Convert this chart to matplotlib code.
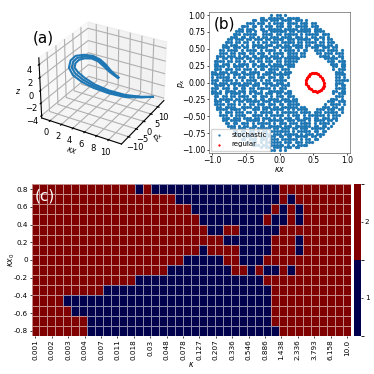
import numpy as np
import matplotlib
matplotlib.use("Agg")
import matplotlib.pyplot as plt
from matplotlib.colors import ListedColormap, BoundaryNorm

# (a) attractor strands
strand_x = [11.7, 10.1, 8.09, 5.97, 4.3, 2.96, 1.96, 1.18, 0.95, 1.29, 1.96, 2.85, 3.63, 4.41, 5.3, 6.42]
mid_y = [7.9, 6.21, 3.49, 0.65, -2.47, -4.32, -5.5, -5.01, -3.41, -2.0, -0.02, 1.73, 3.19, 3.95, 4.29, 5.08]
mid_z = [-2.4, -2.49, -2.27, -1.55, -0.4, 0.63, 1.59, 2.23, 2.76, 3.17, 3.14, 2.9, 2.29, 1.52, 0.72, -0.12]
outer_y = [7.9, 6.2, 3.46, 0.4, -2.94, -5.2, -6.99, -6.66, -4.81, -2.96, -0.17, 2.19, 3.84, 4.6, 4.72, 5.29]
outer_z = [-2.4, -2.54, -2.43, -1.71, -0.56, 0.51, 1.67, 2.57, 3.26, 3.67, 3.45, 3.01, 2.30, 1.53, 0.72, -0.12]
inner_y = [7.9, 6.22, 3.53, 0.9, -2.01, -3.43, -4.01, -3.36, -2.01, -1.03, 0.13, 1.28, 2.54, 3.3, 3.86, 4.86]
inner_z = [-2.4, -2.44, -2.11, -1.39, -0.24, 0.75, 1.51, 1.89, 2.26, 2.67, 2.83, 2.79, 2.28, 1.51, 0.72, -0.12]

# (b) section points, one cell per point, y from 1.0 down to -1.0, x from -1.0 to 1.0
stochastic_rows = [
    "..... ..... ..... ..... ..#.# #.#.. ..... ..... ..... ..... .",
    "..... ..... ..... ...## .#### ##.## ###.. ..... ..... ..... .",
    "..... ..... ..... ##.## #.### .#### .###. #.... ..... ..... .",
    "..... ..... ...## #.### .#.## ##.## ##.## #.##. ..... ..... .",
    "..... ..... .###. ##.#. ###.# ##.## .#### #.### ..... ..... .",
    "..... ..... ##.## #..## .#### #.### ##.## ##.## #.... ..... .",
    "..... ....# ##.## .#..# #.### ###.# #.### ##.## ##... ..... .",
    "..... ...## #.### ##..# ###.# #.### ##.#. ##### .###. ..... .",
    "..... ..### .##.# #.#.# #.### .#### .###. #.##. ##.#. ..... .",
    "..... .##.# ##.## .###. ##.## ##.## #.### ##.## .#.## ..... .",
    "..... ###.# #.##. #.#.# #.### .#### #.##. ####. ##.## #.... .",
    "....# #.### .#.#. ####. ###.# #.##. ####. ##.## ##.## .#... .",
    "....# ##.## #.##. #.### #..## .#### .###. #.### .###. ##... .",
    "...## .#### .#.## ##.#. ####. #.### #.#.# #..## ##.## ##.#. .",
    "...## #.##. ###.# #.### .#.## ##.## ##.## ....# #.### .###. .",
    "..### .###. #.##. ##.## #.### .#.## ##.## ..... ####. #.##. .",
    "..#.# #.#.# ##.## .###. ##.## #.### ###.. ..... ..### ##.#. .",
    ".#### .##.# #.#.# #.##. ###.# #.### ##... ..... ...## #.### .",
    ".##.# ##.#. ####. ##.## .#.## #.### #.... ..... ....# ##.## .",
    ".#### .#.## ##.#. #.### #.### ##.## #.... ..... ..... ##.## .",
    ".###. ###.# #.### .#.## .#### .###. ..... ..... ..... #.### .",
    "##.## #.### .##.# ###.. ####. #.### ..... ..... ..... .###. .",
    "##### .#.## #.### #.#.# ##.## ####. ..... ..... ..... .#### .",
    "#.### ##.#. ###.# #.### .###. ##.#. ..... ..... ..... .##.# .",
    "###.# ###.# .#.## ##.#. ##.## ###.. ..... ..... ..... .#### #",
    "##.## #.### #.### .##.# ###.# ##.#. ..... ..... ..... .###. .",
    ".#### .#.#. ####. ###.. #.### .###. ..... ..... ..... .#.## .",
    "###.# ##.## .##.# #.### ##.#. ###.. ..... ..... ..... .#### .",
    "##.#. ####. ###.# ##.#. .#### ##.## ..... ..... ..... ##.## .",
    "####. #.### #.#.# .###. ###.# #.### ..... ..... ..... #.### .",
    ".##.# #.##. ####. ##.## #.#.# ##.## #.... ..... ..... .###. .",
    ".#.## ###.# #.### .#.## .#### .###. ##... ..... ....# ##.#. .",
    ".###. ##.#. ##.## ###.# ##.## #.### ##... ..... ...## #.### .",
    ".#### .###. #.#.# #.### .###. ##.## ###.. ..... ..#.# ###.# .",
    "..##. ####. .#### .##.# ##.## .#### ##.## ..... .###. ##.#. .",
    "..### #.### #.#.. ###.# #.### ##.#. #.### #...# ##.## #.##. .",
    "...#. ###.# ##.## .#.## ###.# .#### ##.## ##.## #.### ##.#. .",
    "...## #.#.# ###.. ####. #.### ##.#. ###.# .#### ##.#. ###.. .",
    "....# ##.## #.### .##.# ##.#. #.### .##.# ##.## .###. ##... .",
    "....# #.### #..## ###.# .#### ##.## #.### .#.## ##.## .#... .",
    "..... ##.## .###. #.### ##.#. ###.# ##.## ##.#. ####. #.... .",
    "..... .###. #.##. ##.## .#### #.### .#### ##.## .##.# ..... .",
    "..... ..##. ###.# #.### ##.## .###. ##.## #.### ##.#. ..... .",
    "..... ...## .##.# #.#.# #.### ####. #.### ##.## .##.. ..... .",
    "..... ....# ##.## ##.#. ##.## #.### ##.#. ###.# ##... ..... .",
    "..... ..... #.### .#.## ####. ##.## .#### #.##. #.... ..... .",
    "..... ..... .##.# ##.## #.### .#### ##.#. ##.## ..... ..... .",
    "..... ..... ...#. ##.#. ##### #.### .###. ###.. ..... ..... .",
    "..... ..... ..... ###.# #.### ##.#. #.### #.... ..... ..... .",
    "..... ..... ..... ...#. ##.## #.### .##.. ..... ..... ..... .",
    "..... ..... ..... ..... ..##. #.#.. ..... ..... ..... ..... .",
]
regular_x = [0.40, 0.41, 0.43, 0.45, 0.48, 0.51, 0.54, 0.57, 0.60, 0.63, 0.65, 0.66, 0.655,
             0.64, 0.62, 0.59, 0.56, 0.53, 0.50, 0.47, 0.44, 0.42, 0.40, 0.39]
regular_y = [0.03, 0.07, 0.10, 0.125, 0.135, 0.14, 0.135, 0.12, 0.10, 0.07, 0.03, -0.01, -0.05,
             -0.08, -0.11, -0.125, -0.135, -0.13, -0.12, -0.10, -0.08, -0.05, -0.02, 0.0]

# (c) number of attractors for each kappa / kappa x0
kappa_labels = ["0.001", "0.002", "0.003", "0.004", "0.007", "0.011", "0.018", "0.03", "0.048", "0.078",
                "0.127", "0.207", "0.336", "0.546", "0.886", "1.438", "2.336", "3.793", "6.158", "10.0"]
kx0_labels = ["0.8", "0.6", "0.4", "0.2", "0", "-0.2", "-0.4", "-0.6", "-0.8"]
# cell runs per row, left to right, starting with value 2 and then alternating 1, 2, ...
attractor_runs = [
    [13, 1, 1, 16, 9],
    [18, 13, 1, 1, 7],
    [20, 10, 1, 1, 1, 1, 6],
    [21, 8, 1, 2, 1, 1, 6],
    [22, 2, 2, 5, 9],
    [24, 6, 3, 1, 6],
    [21, 1, 4, 4, 3, 1, 6],
    [19, 5, 2, 3, 11],
    [17, 8, 2, 1, 1, 2, 1, 1, 7],
    [13, 16, 11],
    [9, 21, 10],
    [4, 26, 10],
    [5, 25, 10],
    [7, 23, 10],
    [7, 24, 9],
]

blue = "#1f77b4"
fig = plt.figure(figsize=(3.74, 3.74), dpi=100)


def rect(left, top, right, bottom):
    return [left / 374, 1 - bottom / 374, (right - left) / 374, (bottom - top) / 374]


# panel a
ax1 = fig.add_axes(rect(31, 11, 173, 153), projection="3d")
for ys, zs in [(mid_y, mid_z), (outer_y, outer_z), (inner_y, inner_z)]:
    ax1.plot(strand_x, ys, zs, color=blue, lw=1.5, solid_joinstyle="round")
ax1.set_xlim(-1.5, 12.1)
ax1.set_ylim(-14.5, 14.5)
ax1.set_zlim(-4.4, 5)
ax1.set_xticks([0, 2, 4, 6, 8, 10])
ax1.set_yticks([-10, -5, 0, 5, 10])
ax1.set_zticks([-4, -2, 0, 2, 4])
ax1.zaxis.set_ticks_position("lower")
ax1.zaxis.set_label_position("lower")
ax1.tick_params(labelsize=6, pad=-4, length=2)
ax1.set_xlabel(r"$\kappa x$", fontsize=5.5, labelpad=-11)
ax1.set_ylabel(r"$p_x$", fontsize=5.5, labelpad=-11)
ax1.set_zlabel(r"$z$", fontsize=5.5, labelpad=-12)
fig.text(33 / 374, 1 - 38 / 374, "(a)", fontsize=11, va="center")

# panel b
ax2 = fig.add_axes(rect(209, 12, 350, 153))
sx, sy = [], []
for i, row in enumerate(stochastic_rows):
    for j, c in enumerate(row.replace(" ", "")):
        if c == "#":
            sx.append(-1 + 0.04 * j)
            sy.append(1 - 0.04 * i)
ax2.scatter(sx, sy, s=5.5, color=blue, linewidths=0, label="stochastic")
ax2.scatter(regular_x, regular_y, s=5.5, color="red", linewidths=0, label="regular")
ax2.plot(regular_x + regular_x[:1], regular_y + regular_y[:1], color="red", lw=1.1)
ax2.set_xlim(-1.045, 1.045)
ax2.set_ylim(-1.045, 1.045)
ax2.set_xticks([-1, -0.5, 0, 0.5, 1])
ax2.set_yticks([-1, -0.75, -0.5, -0.25, 0, 0.25, 0.5, 0.75, 1])
ax2.tick_params(labelsize=5.5, length=1.5, width=0.5, pad=1)
ax2.set_xlabel(r"$\kappa x$", fontsize=5.5, labelpad=0)
ax2.set_ylabel(r"$p_x$", fontsize=5.5, labelpad=-3.5)
for s in ax2.spines.values():
    s.set_linewidth(0.5)
    s.set_color("#666666")
ax2.legend(loc="lower left", fontsize=5, borderpad=0.5, handlelength=1.2, handletextpad=1.2,
           labelspacing=0.5, markerscale=0.7, borderaxespad=0.3, frameon=True)
ax2.text(-0.97, 0.87, "(b)", fontsize=11, va="center")

# panel c
grid = []
for runs in attractor_runs:
    vals = [2 if k % 2 == 0 else 1 for k in range(len(runs))]
    grid.append(np.repeat(vals, runs))
grid = np.array(grid)
ax3 = fig.add_axes(rect(31.5, 184, 351, 336))
cmap = ListedColormap(["#00004c", "#800000"])
norm = BoundaryNorm([0.5, 1.5, 2.5], 2)
mesh = ax3.pcolormesh(grid, cmap=cmap, norm=norm, edgecolors=(1, 1, 1, 0.55), linewidth=0.4)
ax3.set_xlim(0, grid.shape[1])
ax3.set_ylim(grid.shape[0], 0)
ax3.set_xticks(0.5 + np.arange(len(kappa_labels)) * 39 / 19)
ax3.set_xticklabels(kappa_labels, rotation=90)
ax3.set_yticks(0.5 + np.arange(len(kx0_labels)) * 1.75)
ax3.set_yticklabels(kx0_labels)
ax3.tick_params(labelsize=5.2, length=1.5, width=0.5, pad=1)
ax3.set_xlabel(r"$\kappa$", fontsize=5.5, labelpad=0)
ax3.set_ylabel(r"$\kappa x_0$", fontsize=5.5, labelpad=-2.5)
for s in ax3.spines.values():
    s.set_visible(False)
ax3.text(0.4, 1.2, "(c)", fontsize=11, color="white", va="center")

cax = fig.add_axes(rect(353.5, 184, 360.5, 336))
cb = fig.colorbar(mesh, cax=cax, ticks=[1, 2])
cb.ax.tick_params(labelsize=5.2, length=1.5, width=0.5, pad=1.5)
cb.outline.set_visible(False)

fig.savefig("out.png", dpi=100)
